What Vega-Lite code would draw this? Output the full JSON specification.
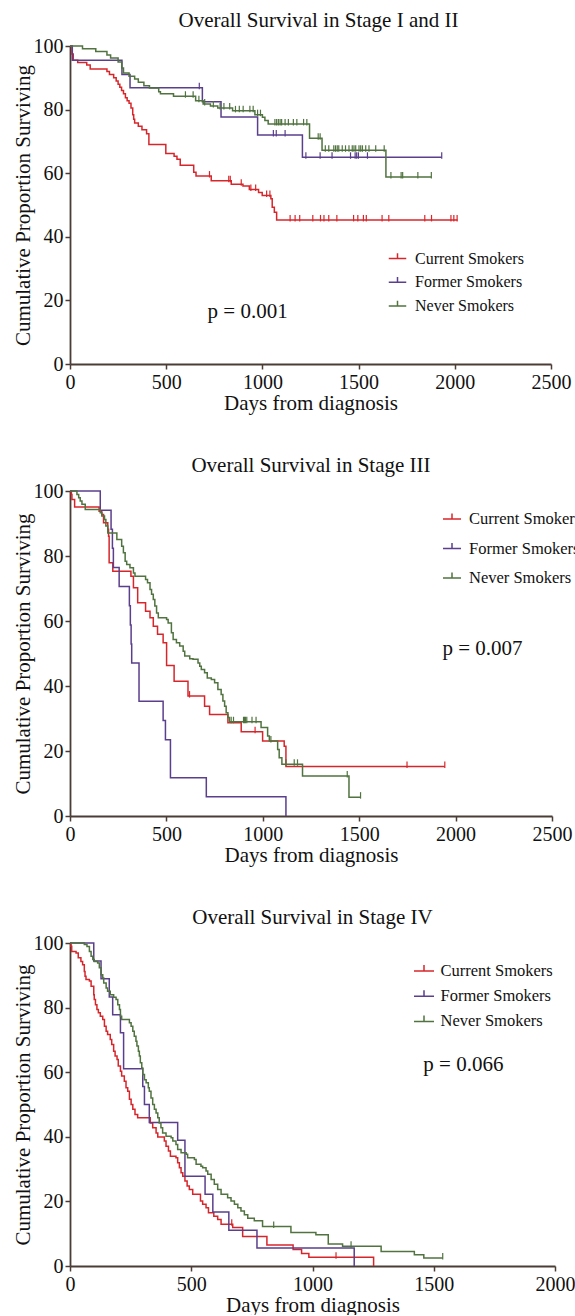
{
"$schema":"https://vega.github.io/schema/vega-lite/v6.json",
"background":"white",
"padding":{"left":12,"top":10,"right":0,"bottom":0},
"spacing":42,
"resolve":{"scale":{"color":"independent"}},
"config":{
 "view":{"stroke":null},
 "font":"Liberation Serif",
 "axis":{"labelFont":"Liberation Serif","labelFontSize":20,"labelColor":"#111111","titleFont":"Liberation Serif","titleFontSize":21,"titleFontWeight":"normal","titleColor":"#111111","grid":false,"domainColor":"#4a3d36","domainWidth":1.8,"tickColor":"#4a3d36","tickWidth":1.5,"tickSize":5,"labelPadding":2,"labelFlush":false,"labelOverlap":false,"labelBound":false,"format":"d"},
 "axisX":{"titlePadding":0,"labelPadding":3},
 "axisY":{"titlePadding":0},
 "title":{"font":"Liberation Serif","fontSize":21,"fontWeight":"normal","color":"#111111","frame":"group","offset":5,"anchor":"middle"}
},
"datasets":{
"curves":[
{"panel":"A","group":"Current Smokers","day":0,"surv":100},{"panel":"A","group":"Current Smokers","day":10,"surv":97.5},{"panel":"A","group":"Current Smokers","day":17,"surv":95.5},{"panel":"A","group":"Current Smokers","day":40,"surv":94.8},{"panel":"A","group":"Current Smokers","day":87,"surv":94.0},{"panel":"A","group":"Current Smokers","day":105,"surv":92.8},{"panel":"A","group":"Current Smokers","day":192,"surv":92.0},{"panel":"A","group":"Current Smokers","day":205,"surv":91.0},{"panel":"A","group":"Current Smokers","day":227,"surv":90.0},{"panel":"A","group":"Current Smokers","day":240,"surv":89.0},{"panel":"A","group":"Current Smokers","day":250,"surv":88.0},{"panel":"A","group":"Current Smokers","day":259,"surv":87.0},{"panel":"A","group":"Current Smokers","day":268,"surv":86.0},{"panel":"A","group":"Current Smokers","day":278,"surv":85.0},{"panel":"A","group":"Current Smokers","day":288,"surv":83.7},{"panel":"A","group":"Current Smokers","day":297,"surv":82.8},{"panel":"A","group":"Current Smokers","day":307,"surv":82.0},{"panel":"A","group":"Current Smokers","day":317,"surv":80.5},{"panel":"A","group":"Current Smokers","day":326,"surv":78.4},{"panel":"A","group":"Current Smokers","day":331,"surv":77.0},{"panel":"A","group":"Current Smokers","day":336,"surv":75.8},{"panel":"A","group":"Current Smokers","day":355,"surv":74.8},{"panel":"A","group":"Current Smokers","day":374,"surv":73.7},{"panel":"A","group":"Current Smokers","day":398,"surv":72.4},{"panel":"A","group":"Current Smokers","day":410,"surv":69.0},{"panel":"A","group":"Current Smokers","day":498,"surv":66.2},{"panel":"A","group":"Current Smokers","day":541,"surv":65.3},{"panel":"A","group":"Current Smokers","day":556,"surv":64.4},{"panel":"A","group":"Current Smokers","day":573,"surv":62.5},{"panel":"A","group":"Current Smokers","day":643,"surv":60.3},{"panel":"A","group":"Current Smokers","day":655,"surv":59.1},{"panel":"A","group":"Current Smokers","day":734,"surv":57.6},{"panel":"A","group":"Current Smokers","day":838,"surv":56.5},{"panel":"A","group":"Current Smokers","day":899,"surv":56.0},{"panel":"A","group":"Current Smokers","day":932,"surv":54.9},{"panel":"A","group":"Current Smokers","day":980,"surv":53.9},{"panel":"A","group":"Current Smokers","day":999,"surv":53.0},{"panel":"A","group":"Current Smokers","day":1044,"surv":52.0},{"panel":"A","group":"Current Smokers","day":1051,"surv":49.3},{"panel":"A","group":"Current Smokers","day":1062,"surv":47.7},{"panel":"A","group":"Current Smokers","day":1074,"surv":45.3},{"panel":"A","group":"Current Smokers","day":2014,"surv":45.3},
{"panel":"A","group":"Former Smokers","day":0,"surv":100},{"panel":"A","group":"Former Smokers","day":12,"surv":95.5},{"panel":"A","group":"Former Smokers","day":270,"surv":91.0},{"panel":"A","group":"Former Smokers","day":312,"surv":86.9},{"panel":"A","group":"Former Smokers","day":688,"surv":82.5},{"panel":"A","group":"Former Smokers","day":785,"surv":77.7},{"panel":"A","group":"Former Smokers","day":975,"surv":72.0},{"panel":"A","group":"Former Smokers","day":1208,"surv":65.0},{"panel":"A","group":"Former Smokers","day":1932,"surv":65.0},
{"panel":"A","group":"Never Smokers","day":0,"surv":100},{"panel":"A","group":"Never Smokers","day":65,"surv":99.1},{"panel":"A","group":"Never Smokers","day":134,"surv":98.3},{"panel":"A","group":"Never Smokers","day":192,"surv":97.2},{"panel":"A","group":"Never Smokers","day":211,"surv":96.2},{"panel":"A","group":"Never Smokers","day":250,"surv":95.0},{"panel":"A","group":"Never Smokers","day":269,"surv":93.1},{"panel":"A","group":"Never Smokers","day":278,"surv":91.5},{"panel":"A","group":"Never Smokers","day":307,"surv":90.5},{"panel":"A","group":"Never Smokers","day":336,"surv":89.6},{"panel":"A","group":"Never Smokers","day":355,"surv":88.6},{"panel":"A","group":"Never Smokers","day":384,"surv":87.5},{"panel":"A","group":"Never Smokers","day":413,"surv":86.8},{"panel":"A","group":"Never Smokers","day":461,"surv":85.6},{"panel":"A","group":"Never Smokers","day":470,"surv":85.0},{"panel":"A","group":"Never Smokers","day":538,"surv":84.2},{"panel":"A","group":"Never Smokers","day":653,"surv":82.8},{"panel":"A","group":"Never Smokers","day":692,"surv":81.8},{"panel":"A","group":"Never Smokers","day":730,"surv":81.1},{"panel":"A","group":"Never Smokers","day":768,"surv":80.5},{"panel":"A","group":"Never Smokers","day":845,"surv":79.6},{"panel":"A","group":"Never Smokers","day":961,"surv":78.4},{"panel":"A","group":"Never Smokers","day":1000,"surv":77.6},{"panel":"A","group":"Never Smokers","day":1013,"surv":76.6},{"panel":"A","group":"Never Smokers","day":1030,"surv":75.5},{"panel":"A","group":"Never Smokers","day":1245,"surv":71.0},{"panel":"A","group":"Never Smokers","day":1310,"surv":67.2},{"panel":"A","group":"Never Smokers","day":1642,"surv":58.8},{"panel":"A","group":"Never Smokers","day":1878,"surv":58.8},
{"panel":"B","group":"Current Smokers","day":0,"surv":100},{"panel":"B","group":"Current Smokers","day":7,"surv":98.9},{"panel":"B","group":"Current Smokers","day":10,"surv":97.4},{"panel":"B","group":"Current Smokers","day":24,"surv":95.1},{"panel":"B","group":"Current Smokers","day":151,"surv":93.8},{"panel":"B","group":"Current Smokers","day":165,"surv":92.8},{"panel":"B","group":"Current Smokers","day":174,"surv":90.2},{"panel":"B","group":"Current Smokers","day":196,"surv":88.2},{"panel":"B","group":"Current Smokers","day":200,"surv":86.1},{"panel":"B","group":"Current Smokers","day":203,"surv":77.9},{"panel":"B","group":"Current Smokers","day":222,"surv":75.3},{"panel":"B","group":"Current Smokers","day":316,"surv":73.8},{"panel":"B","group":"Current Smokers","day":329,"surv":70.2},{"panel":"B","group":"Current Smokers","day":351,"surv":65.6},{"panel":"B","group":"Current Smokers","day":392,"surv":63.0},{"panel":"B","group":"Current Smokers","day":415,"surv":61.0},{"panel":"B","group":"Current Smokers","day":432,"surv":58.4},{"panel":"B","group":"Current Smokers","day":454,"surv":55.9},{"panel":"B","group":"Current Smokers","day":483,"surv":53.3},{"panel":"B","group":"Current Smokers","day":501,"surv":46.3},{"panel":"B","group":"Current Smokers","day":540,"surv":41.5},{"panel":"B","group":"Current Smokers","day":612,"surv":36.9},{"panel":"B","group":"Current Smokers","day":698,"surv":33.8},{"panel":"B","group":"Current Smokers","day":724,"surv":31.2},{"panel":"B","group":"Current Smokers","day":819,"surv":28.7},{"panel":"B","group":"Current Smokers","day":888,"surv":25.9},{"panel":"B","group":"Current Smokers","day":999,"surv":23.1},{"panel":"B","group":"Current Smokers","day":1111,"surv":21.5},{"panel":"B","group":"Current Smokers","day":1120,"surv":15.2},{"panel":"B","group":"Current Smokers","day":1944,"surv":15.2},
{"panel":"B","group":"Former Smokers","day":0,"surv":100},{"panel":"B","group":"Former Smokers","day":157,"surv":94.1},{"panel":"B","group":"Former Smokers","day":213,"surv":88.2},{"panel":"B","group":"Former Smokers","day":220,"surv":82.4},{"panel":"B","group":"Former Smokers","day":225,"surv":76.5},{"panel":"B","group":"Former Smokers","day":255,"surv":70.6},{"panel":"B","group":"Former Smokers","day":308,"surv":64.7},{"panel":"B","group":"Former Smokers","day":313,"surv":58.8},{"panel":"B","group":"Former Smokers","day":317,"surv":52.9},{"panel":"B","group":"Former Smokers","day":320,"surv":47.1},{"panel":"B","group":"Former Smokers","day":358,"surv":35.3},{"panel":"B","group":"Former Smokers","day":483,"surv":29.4},{"panel":"B","group":"Former Smokers","day":495,"surv":23.5},{"panel":"B","group":"Former Smokers","day":521,"surv":11.8},{"panel":"B","group":"Former Smokers","day":707,"surv":5.9},{"panel":"B","group":"Former Smokers","day":1120,"surv":0},
{"panel":"B","group":"Never Smokers","day":0,"surv":100},{"panel":"B","group":"Never Smokers","day":36,"surv":98.9},{"panel":"B","group":"Never Smokers","day":45,"surv":97.9},{"panel":"B","group":"Never Smokers","day":53,"surv":96.9},{"panel":"B","group":"Never Smokers","day":62,"surv":95.9},{"panel":"B","group":"Never Smokers","day":79,"surv":94.3},{"panel":"B","group":"Never Smokers","day":157,"surv":93.3},{"panel":"B","group":"Never Smokers","day":165,"surv":92.3},{"panel":"B","group":"Never Smokers","day":179,"surv":91.2},{"panel":"B","group":"Never Smokers","day":186,"surv":89.2},{"panel":"B","group":"Never Smokers","day":196,"surv":87.1},{"panel":"B","group":"Never Smokers","day":243,"surv":85.1},{"panel":"B","group":"Never Smokers","day":268,"surv":83.0},{"panel":"B","group":"Never Smokers","day":277,"surv":81.0},{"panel":"B","group":"Never Smokers","day":286,"surv":78.4},{"panel":"B","group":"Never Smokers","day":294,"surv":77.4},{"panel":"B","group":"Never Smokers","day":311,"surv":76.4},{"panel":"B","group":"Never Smokers","day":329,"surv":74.8},{"panel":"B","group":"Never Smokers","day":337,"surv":73.8},{"panel":"B","group":"Never Smokers","day":392,"surv":72.8},{"panel":"B","group":"Never Smokers","day":402,"surv":71.8},{"panel":"B","group":"Never Smokers","day":415,"surv":69.7},{"panel":"B","group":"Never Smokers","day":423,"surv":68.2},{"panel":"B","group":"Never Smokers","day":432,"surv":66.6},{"panel":"B","group":"Never Smokers","day":440,"surv":64.6},{"panel":"B","group":"Never Smokers","day":449,"surv":62.5},{"panel":"B","group":"Never Smokers","day":458,"surv":61.0},{"panel":"B","group":"Never Smokers","day":501,"surv":60.5},{"panel":"B","group":"Never Smokers","day":509,"surv":59.4},{"panel":"B","group":"Never Smokers","day":526,"surv":56.4},{"panel":"B","group":"Never Smokers","day":535,"surv":54.3},{"panel":"B","group":"Never Smokers","day":552,"surv":53.3},{"panel":"B","group":"Never Smokers","day":569,"surv":52.3},{"panel":"B","group":"Never Smokers","day":587,"surv":50.7},{"panel":"B","group":"Never Smokers","day":595,"surv":49.2},{"panel":"B","group":"Never Smokers","day":621,"surv":48.4},{"panel":"B","group":"Never Smokers","day":638,"surv":48.2},{"panel":"B","group":"Never Smokers","day":664,"surv":47.1},{"panel":"B","group":"Never Smokers","day":673,"surv":46.1},{"panel":"B","group":"Never Smokers","day":681,"surv":45.1},{"panel":"B","group":"Never Smokers","day":698,"surv":44.1},{"panel":"B","group":"Never Smokers","day":712,"surv":42.5},{"panel":"B","group":"Never Smokers","day":733,"surv":42.0},{"panel":"B","group":"Never Smokers","day":750,"surv":41.0},{"panel":"B","group":"Never Smokers","day":767,"surv":38.9},{"panel":"B","group":"Never Smokers","day":784,"surv":37.4},{"panel":"B","group":"Never Smokers","day":793,"surv":35.4},{"panel":"B","group":"Never Smokers","day":802,"surv":33.8},{"panel":"B","group":"Never Smokers","day":810,"surv":31.8},{"panel":"B","group":"Never Smokers","day":819,"surv":30.3},{"panel":"B","group":"Never Smokers","day":827,"surv":29.0},{"panel":"B","group":"Never Smokers","day":991,"surv":27.2},{"panel":"B","group":"Never Smokers","day":1025,"surv":24.6},{"panel":"B","group":"Never Smokers","day":1034,"surv":23.1},{"panel":"B","group":"Never Smokers","day":1077,"surv":20.5},{"panel":"B","group":"Never Smokers","day":1085,"surv":17.9},{"panel":"B","group":"Never Smokers","day":1099,"surv":15.9},{"panel":"B","group":"Never Smokers","day":1206,"surv":12.3},{"panel":"B","group":"Never Smokers","day":1447,"surv":5.8},{"panel":"B","group":"Never Smokers","day":1507,"surv":5.8},
{"panel":"C","group":"Current Smokers","day":0,"surv":100},{"panel":"C","group":"Current Smokers","day":4,"surv":99.0},{"panel":"C","group":"Current Smokers","day":7,"surv":97.4},{"panel":"C","group":"Current Smokers","day":25,"surv":96.9},{"panel":"C","group":"Current Smokers","day":34,"surv":95.4},{"panel":"C","group":"Current Smokers","day":45,"surv":94.3},{"panel":"C","group":"Current Smokers","day":52,"surv":93.3},{"panel":"C","group":"Current Smokers","day":59,"surv":91.2},{"panel":"C","group":"Current Smokers","day":62,"surv":89.7},{"panel":"C","group":"Current Smokers","day":66,"surv":88.7},{"panel":"C","group":"Current Smokers","day":80,"surv":88.2},{"panel":"C","group":"Current Smokers","day":87,"surv":86.6},{"panel":"C","group":"Current Smokers","day":98,"surv":84.0},{"panel":"C","group":"Current Smokers","day":100,"surv":82.5},{"panel":"C","group":"Current Smokers","day":105,"surv":80.9},{"panel":"C","group":"Current Smokers","day":111,"surv":79.4},{"panel":"C","group":"Current Smokers","day":117,"surv":78.4},{"panel":"C","group":"Current Smokers","day":125,"surv":77.3},{"panel":"C","group":"Current Smokers","day":135,"surv":76.3},{"panel":"C","group":"Current Smokers","day":142,"surv":74.2},{"panel":"C","group":"Current Smokers","day":149,"surv":72.7},{"panel":"C","group":"Current Smokers","day":155,"surv":71.7},{"panel":"C","group":"Current Smokers","day":166,"surv":70.1},{"panel":"C","group":"Current Smokers","day":172,"surv":68.6},{"panel":"C","group":"Current Smokers","day":180,"surv":66.5},{"panel":"C","group":"Current Smokers","day":186,"surv":65.0},{"panel":"C","group":"Current Smokers","day":194,"surv":63.9},{"panel":"C","group":"Current Smokers","day":199,"surv":61.9},{"panel":"C","group":"Current Smokers","day":208,"surv":60.3},{"panel":"C","group":"Current Smokers","day":213,"surv":58.8},{"panel":"C","group":"Current Smokers","day":224,"surv":57.2},{"panel":"C","group":"Current Smokers","day":231,"surv":55.2},{"panel":"C","group":"Current Smokers","day":238,"surv":54.1},{"panel":"C","group":"Current Smokers","day":245,"surv":51.6},{"panel":"C","group":"Current Smokers","day":252,"surv":50.0},{"panel":"C","group":"Current Smokers","day":259,"surv":48.5},{"panel":"C","group":"Current Smokers","day":268,"surv":46.9},{"panel":"C","group":"Current Smokers","day":279,"surv":45.9},{"panel":"C","group":"Current Smokers","day":331,"surv":44.3},{"panel":"C","group":"Current Smokers","day":341,"surv":42.8},{"panel":"C","group":"Current Smokers","day":355,"surv":41.2},{"panel":"C","group":"Current Smokers","day":362,"surv":39.9},{"panel":"C","group":"Current Smokers","day":389,"surv":38.7},{"panel":"C","group":"Current Smokers","day":396,"surv":37.1},{"panel":"C","group":"Current Smokers","day":406,"surv":35.6},{"panel":"C","group":"Current Smokers","day":414,"surv":34.0},{"panel":"C","group":"Current Smokers","day":437,"surv":33.5},{"panel":"C","group":"Current Smokers","day":444,"surv":32.0},{"panel":"C","group":"Current Smokers","day":451,"surv":30.4},{"panel":"C","group":"Current Smokers","day":458,"surv":28.9},{"panel":"C","group":"Current Smokers","day":465,"surv":27.8},{"panel":"C","group":"Current Smokers","day":474,"surv":26.3},{"panel":"C","group":"Current Smokers","day":483,"surv":24.8},{"panel":"C","group":"Current Smokers","day":492,"surv":23.7},{"panel":"C","group":"Current Smokers","day":506,"surv":22.2},{"panel":"C","group":"Current Smokers","day":538,"surv":20.1},{"panel":"C","group":"Current Smokers","day":547,"surv":19.1},{"panel":"C","group":"Current Smokers","day":561,"surv":18.0},{"panel":"C","group":"Current Smokers","day":571,"surv":16.5},{"panel":"C","group":"Current Smokers","day":593,"surv":15.4},{"panel":"C","group":"Current Smokers","day":609,"surv":14.4},{"panel":"C","group":"Current Smokers","day":623,"surv":12.9},{"panel":"C","group":"Current Smokers","day":671,"surv":11.9},{"panel":"C","group":"Current Smokers","day":712,"surv":9.1},{"panel":"C","group":"Current Smokers","day":812,"surv":6.5},{"panel":"C","group":"Current Smokers","day":920,"surv":5.1},{"panel":"C","group":"Current Smokers","day":955,"surv":3.9},{"panel":"C","group":"Current Smokers","day":985,"surv":2.7},{"panel":"C","group":"Current Smokers","day":1252,"surv":0},
{"panel":"C","group":"Former Smokers","day":0,"surv":100},{"panel":"C","group":"Former Smokers","day":98,"surv":94.4},{"panel":"C","group":"Former Smokers","day":128,"surv":88.9},{"panel":"C","group":"Former Smokers","day":162,"surv":83.3},{"panel":"C","group":"Former Smokers","day":176,"surv":77.8},{"panel":"C","group":"Former Smokers","day":208,"surv":72.2},{"panel":"C","group":"Former Smokers","day":221,"surv":61.1},{"panel":"C","group":"Former Smokers","day":300,"surv":55.6},{"panel":"C","group":"Former Smokers","day":307,"surv":50.0},{"panel":"C","group":"Former Smokers","day":327,"surv":44.4},{"panel":"C","group":"Former Smokers","day":444,"surv":38.9},{"panel":"C","group":"Former Smokers","day":474,"surv":27.8},{"panel":"C","group":"Former Smokers","day":557,"surv":22.2},{"panel":"C","group":"Former Smokers","day":589,"surv":16.7},{"panel":"C","group":"Former Smokers","day":655,"surv":11.1},{"panel":"C","group":"Former Smokers","day":771,"surv":5.6},{"panel":"C","group":"Former Smokers","day":1172,"surv":0},
{"panel":"C","group":"Never Smokers","day":0,"surv":100},{"panel":"C","group":"Never Smokers","day":59,"surv":99.5},{"panel":"C","group":"Never Smokers","day":70,"surv":98.9},{"panel":"C","group":"Never Smokers","day":80,"surv":97.4},{"panel":"C","group":"Never Smokers","day":87,"surv":95.9},{"panel":"C","group":"Never Smokers","day":94,"surv":94.9},{"panel":"C","group":"Never Smokers","day":100,"surv":94.3},{"panel":"C","group":"Never Smokers","day":114,"surv":93.8},{"panel":"C","group":"Never Smokers","day":121,"surv":92.3},{"panel":"C","group":"Never Smokers","day":128,"surv":90.2},{"panel":"C","group":"Never Smokers","day":135,"surv":89.2},{"panel":"C","group":"Never Smokers","day":139,"surv":87.6},{"panel":"C","group":"Never Smokers","day":149,"surv":86.1},{"panel":"C","group":"Never Smokers","day":155,"surv":85.1},{"panel":"C","group":"Never Smokers","day":166,"surv":84.0},{"panel":"C","group":"Never Smokers","day":180,"surv":83.2},{"panel":"C","group":"Never Smokers","day":190,"surv":82.5},{"panel":"C","group":"Never Smokers","day":197,"surv":80.9},{"panel":"C","group":"Never Smokers","day":204,"surv":79.4},{"panel":"C","group":"Never Smokers","day":208,"surv":77.3},{"panel":"C","group":"Never Smokers","day":213,"surv":76.3},{"panel":"C","group":"Never Smokers","day":245,"surv":75.3},{"panel":"C","group":"Never Smokers","day":252,"surv":74.2},{"panel":"C","group":"Never Smokers","day":259,"surv":72.7},{"panel":"C","group":"Never Smokers","day":265,"surv":71.1},{"panel":"C","group":"Never Smokers","day":272,"surv":69.6},{"panel":"C","group":"Never Smokers","day":276,"surv":68.1},{"panel":"C","group":"Never Smokers","day":282,"surv":66.5},{"panel":"C","group":"Never Smokers","day":286,"surv":65.0},{"panel":"C","group":"Never Smokers","day":290,"surv":62.9},{"panel":"C","group":"Never Smokers","day":296,"surv":61.3},{"panel":"C","group":"Never Smokers","day":300,"surv":59.3},{"panel":"C","group":"Never Smokers","day":307,"surv":57.7},{"panel":"C","group":"Never Smokers","day":314,"surv":56.7},{"panel":"C","group":"Never Smokers","day":323,"surv":55.2},{"panel":"C","group":"Never Smokers","day":327,"surv":54.1},{"panel":"C","group":"Never Smokers","day":334,"surv":52.0},{"panel":"C","group":"Never Smokers","day":341,"surv":50.0},{"panel":"C","group":"Never Smokers","day":348,"surv":48.5},{"panel":"C","group":"Never Smokers","day":355,"surv":47.4},{"panel":"C","group":"Never Smokers","day":362,"surv":45.9},{"panel":"C","group":"Never Smokers","day":368,"surv":44.3},{"panel":"C","group":"Never Smokers","day":375,"surv":42.8},{"panel":"C","group":"Never Smokers","day":382,"surv":41.2},{"panel":"C","group":"Never Smokers","day":396,"surv":40.2},{"panel":"C","group":"Never Smokers","day":417,"surv":39.7},{"panel":"C","group":"Never Smokers","day":424,"surv":38.7},{"panel":"C","group":"Never Smokers","day":437,"surv":37.6},{"panel":"C","group":"Never Smokers","day":444,"surv":36.1},{"panel":"C","group":"Never Smokers","day":458,"surv":35.1},{"panel":"C","group":"Never Smokers","day":479,"surv":34.6},{"panel":"C","group":"Never Smokers","day":485,"surv":33.5},{"panel":"C","group":"Never Smokers","day":513,"surv":33.0},{"panel":"C","group":"Never Smokers","day":520,"surv":31.5},{"panel":"C","group":"Never Smokers","day":540,"surv":30.9},{"panel":"C","group":"Never Smokers","day":547,"surv":30.4},{"panel":"C","group":"Never Smokers","day":561,"surv":29.4},{"panel":"C","group":"Never Smokers","day":568,"surv":28.4},{"panel":"C","group":"Never Smokers","day":582,"surv":26.8},{"panel":"C","group":"Never Smokers","day":595,"surv":25.3},{"panel":"C","group":"Never Smokers","day":609,"surv":23.7},{"panel":"C","group":"Never Smokers","day":623,"surv":22.2},{"panel":"C","group":"Never Smokers","day":650,"surv":21.1},{"panel":"C","group":"Never Smokers","day":664,"surv":20.1},{"panel":"C","group":"Never Smokers","day":678,"surv":19.1},{"panel":"C","group":"Never Smokers","day":692,"surv":18.0},{"panel":"C","group":"Never Smokers","day":705,"surv":17.0},{"panel":"C","group":"Never Smokers","day":719,"surv":15.9},{"panel":"C","group":"Never Smokers","day":733,"surv":14.8},{"panel":"C","group":"Never Smokers","day":760,"surv":14.0},{"panel":"C","group":"Never Smokers","day":794,"surv":12.2},{"panel":"C","group":"Never Smokers","day":911,"surv":10.4},{"panel":"C","group":"Never Smokers","day":1014,"surv":9.7},{"panel":"C","group":"Never Smokers","day":1065,"surv":6.8},{"panel":"C","group":"Never Smokers","day":1124,"surv":6.1},{"panel":"C","group":"Never Smokers","day":1283,"surv":4.5},{"panel":"C","group":"Never Smokers","day":1420,"surv":3.5},{"panel":"C","group":"Never Smokers","day":1459,"surv":2.5},{"panel":"C","group":"Never Smokers","day":1537,"surv":2.5}
],
"censors":[
{"panel":"A","group":"Current Smokers","day":725,"surv":59.1},{"panel":"A","group":"Current Smokers","day":825,"surv":57.6},{"panel":"A","group":"Current Smokers","day":833,"surv":57.6},{"panel":"A","group":"Current Smokers","day":890,"surv":56.5},{"panel":"A","group":"Current Smokers","day":940,"surv":54.9},{"panel":"A","group":"Current Smokers","day":965,"surv":54.9},{"panel":"A","group":"Current Smokers","day":1022,"surv":53.0},{"panel":"A","group":"Current Smokers","day":1039,"surv":53.0},{"panel":"A","group":"Current Smokers","day":1144,"surv":45.3},{"panel":"A","group":"Current Smokers","day":1170,"surv":45.3},{"panel":"A","group":"Current Smokers","day":1194,"surv":45.3},{"panel":"A","group":"Current Smokers","day":1262,"surv":45.3},{"panel":"A","group":"Current Smokers","day":1302,"surv":45.3},{"panel":"A","group":"Current Smokers","day":1320,"surv":45.3},{"panel":"A","group":"Current Smokers","day":1345,"surv":45.3},{"panel":"A","group":"Current Smokers","day":1387,"surv":45.3},{"panel":"A","group":"Current Smokers","day":1474,"surv":45.3},{"panel":"A","group":"Current Smokers","day":1496,"surv":45.3},{"panel":"A","group":"Current Smokers","day":1525,"surv":45.3},{"panel":"A","group":"Current Smokers","day":1540,"surv":45.3},{"panel":"A","group":"Current Smokers","day":1622,"surv":45.3},{"panel":"A","group":"Current Smokers","day":1657,"surv":45.3},{"panel":"A","group":"Current Smokers","day":1844,"surv":45.3},{"panel":"A","group":"Current Smokers","day":1879,"surv":45.3},{"panel":"A","group":"Current Smokers","day":1980,"surv":45.3},{"panel":"A","group":"Current Smokers","day":1995,"surv":45.3},{"panel":"A","group":"Current Smokers","day":2012,"surv":45.3},
{"panel":"A","group":"Former Smokers","day":672,"surv":86.9},{"panel":"A","group":"Former Smokers","day":1057,"surv":72.0},{"panel":"A","group":"Former Smokers","day":1072,"surv":72.0},{"panel":"A","group":"Former Smokers","day":1118,"surv":72.0},{"panel":"A","group":"Former Smokers","day":1226,"surv":65.0},{"panel":"A","group":"Former Smokers","day":1300,"surv":65.0},{"panel":"A","group":"Former Smokers","day":1362,"surv":65.0},{"panel":"A","group":"Former Smokers","day":1458,"surv":65.0},{"panel":"A","group":"Former Smokers","day":1482,"surv":65.0},{"panel":"A","group":"Former Smokers","day":1490,"surv":65.0},{"panel":"A","group":"Former Smokers","day":1499,"surv":65.0},{"panel":"A","group":"Former Smokers","day":1546,"surv":65.0},{"panel":"A","group":"Former Smokers","day":1932,"surv":65.0},
{"panel":"A","group":"Never Smokers","day":600,"surv":84.2},{"panel":"A","group":"Never Smokers","day":640,"surv":84.2},{"panel":"A","group":"Never Smokers","day":670,"surv":82.8},{"panel":"A","group":"Never Smokers","day":700,"surv":81.8},{"panel":"A","group":"Never Smokers","day":745,"surv":81.1},{"panel":"A","group":"Never Smokers","day":780,"surv":80.5},{"panel":"A","group":"Never Smokers","day":800,"surv":80.5},{"panel":"A","group":"Never Smokers","day":830,"surv":80.5},{"panel":"A","group":"Never Smokers","day":860,"surv":79.6},{"panel":"A","group":"Never Smokers","day":880,"surv":79.6},{"panel":"A","group":"Never Smokers","day":900,"surv":79.6},{"panel":"A","group":"Never Smokers","day":935,"surv":79.6},{"panel":"A","group":"Never Smokers","day":952,"surv":79.6},{"panel":"A","group":"Never Smokers","day":975,"surv":78.4},{"panel":"A","group":"Never Smokers","day":990,"surv":78.4},{"panel":"A","group":"Never Smokers","day":1065,"surv":75.5},{"panel":"A","group":"Never Smokers","day":1074,"surv":75.5},{"panel":"A","group":"Never Smokers","day":1083,"surv":75.5},{"panel":"A","group":"Never Smokers","day":1092,"surv":75.5},{"panel":"A","group":"Never Smokers","day":1100,"surv":75.5},{"panel":"A","group":"Never Smokers","day":1118,"surv":75.5},{"panel":"A","group":"Never Smokers","day":1135,"surv":75.5},{"panel":"A","group":"Never Smokers","day":1161,"surv":75.5},{"panel":"A","group":"Never Smokers","day":1179,"surv":75.5},{"panel":"A","group":"Never Smokers","day":1214,"surv":75.5},{"panel":"A","group":"Never Smokers","day":1231,"surv":75.5},{"panel":"A","group":"Never Smokers","day":1290,"surv":71.0},{"panel":"A","group":"Never Smokers","day":1300,"surv":71.0},{"panel":"A","group":"Never Smokers","day":1327,"surv":67.2},{"panel":"A","group":"Never Smokers","day":1345,"surv":67.2},{"panel":"A","group":"Never Smokers","day":1371,"surv":67.2},{"panel":"A","group":"Never Smokers","day":1380,"surv":67.2},{"panel":"A","group":"Never Smokers","day":1389,"surv":67.2},{"panel":"A","group":"Never Smokers","day":1397,"surv":67.2},{"panel":"A","group":"Never Smokers","day":1415,"surv":67.2},{"panel":"A","group":"Never Smokers","day":1432,"surv":67.2},{"panel":"A","group":"Never Smokers","day":1450,"surv":67.2},{"panel":"A","group":"Never Smokers","day":1467,"surv":67.2},{"panel":"A","group":"Never Smokers","day":1476,"surv":67.2},{"panel":"A","group":"Never Smokers","day":1485,"surv":67.2},{"panel":"A","group":"Never Smokers","day":1502,"surv":67.2},{"panel":"A","group":"Never Smokers","day":1511,"surv":67.2},{"panel":"A","group":"Never Smokers","day":1520,"surv":67.2},{"panel":"A","group":"Never Smokers","day":1537,"surv":67.2},{"panel":"A","group":"Never Smokers","day":1554,"surv":67.2},{"panel":"A","group":"Never Smokers","day":1589,"surv":67.2},{"panel":"A","group":"Never Smokers","day":1633,"surv":67.2},{"panel":"A","group":"Never Smokers","day":1668,"surv":58.8},{"panel":"A","group":"Never Smokers","day":1721,"surv":58.8},{"panel":"A","group":"Never Smokers","day":1729,"surv":58.8},{"panel":"A","group":"Never Smokers","day":1808,"surv":58.8},{"panel":"A","group":"Never Smokers","day":1878,"surv":58.8},
{"panel":"B","group":"Current Smokers","day":620,"surv":36.9},{"panel":"B","group":"Current Smokers","day":960,"surv":25.9},{"panel":"B","group":"Current Smokers","day":1748,"surv":15.2},{"panel":"B","group":"Current Smokers","day":1944,"surv":15.2},
{"panel":"B","group":"Never Smokers","day":836,"surv":29.0},{"panel":"B","group":"Never Smokers","day":848,"surv":29.0},{"panel":"B","group":"Never Smokers","day":900,"surv":29.0},{"panel":"B","group":"Never Smokers","day":905,"surv":29.0},{"panel":"B","group":"Never Smokers","day":910,"surv":29.0},{"panel":"B","group":"Never Smokers","day":917,"surv":29.0},{"panel":"B","group":"Never Smokers","day":944,"surv":29.0},{"panel":"B","group":"Never Smokers","day":965,"surv":29.0},{"panel":"B","group":"Never Smokers","day":1042,"surv":23.1},{"panel":"B","group":"Never Smokers","day":1120,"surv":15.9},{"panel":"B","group":"Never Smokers","day":1163,"surv":15.9},{"panel":"B","group":"Never Smokers","day":1180,"surv":15.9},{"panel":"B","group":"Never Smokers","day":1438,"surv":12.3},{"panel":"B","group":"Never Smokers","day":1507,"surv":5.8},
{"panel":"C","group":"Current Smokers","day":667,"surv":12.9},{"panel":"C","group":"Current Smokers","day":1097,"surv":2.7},
{"panel":"C","group":"Never Smokers","day":840,"surv":12.2},{"panel":"C","group":"Never Smokers","day":1159,"surv":6.1},{"panel":"C","group":"Never Smokers","day":1537,"surv":2.5}
]
},
"vconcat":[
{
 "title":{"text":"Overall Survival in Stage I and II","dx":8},
 "width":481,"height":318,
 "layer":[
  {"data":{"name":"curves"},"transform":[{"filter":"datum.panel == 'A'"}],
   "mark":{"type":"line","interpolate":"step-after","strokeWidth":1.5},
   "encoding":{
    "x":{"field":"day","type":"quantitative","scale":{"domain":[0,2500],"nice":false},"axis":{"values":[0,500,1000,1500,2000,2500],"format":"d","title":"Days from diagnosis"}},
    "y":{"field":"surv","type":"quantitative","scale":{"domain":[0,100],"nice":false},"axis":{"values":[0,20,40,60,80,100],"format":"d","title":"Cumulative Proportion Surviving"}},
    "color":{"field":"group","type":"nominal","scale":{"domain":["Current Smokers","Former Smokers","Never Smokers"],"range":["#d7262b","#5a3f8c","#50733f"]},
     "legend":{"title":null,"orient":"none","legendX":318,"legendY":203,"padding":0,"symbolType":"M-1,0H1M0,0V-0.6","symbolSize":306,"symbolStrokeWidth":1.5,"labelFont":"Liberation Serif","labelFontSize":16,"labelColor":"#111111","labelOffset":8,"rowPadding":5.7}}
   }},
  {"data":{"name":"censors"},"transform":[{"filter":"datum.panel == 'A'"}],
   "mark":{"type":"point","shape":"M0,0.3V-1","size":100,"filled":false,"strokeWidth":1.2,"opacity":1},
   "encoding":{
    "x":{"field":"day","type":"quantitative"},
    "y":{"field":"surv","type":"quantitative"},
    "color":{"field":"group","type":"nominal"}
   }},
  {"data":{"values":[{"day":715,"surv":16.2,"label":"p = 0.001"}]},
   "mark":{"type":"text","align":"left","baseline":"middle","font":"Liberation Serif","fontSize":21,"color":"#111111"},
   "encoding":{"x":{"field":"day","type":"quantitative"},"y":{"field":"surv","type":"quantitative"},"text":{"field":"label"}}}
 ]
},
{
 "title":{"text":"Overall Survival in Stage III"},
 "width":482,"height":325,
 "layer":[
  {"data":{"name":"curves"},"transform":[{"filter":"datum.panel == 'B'"}],
   "mark":{"type":"line","interpolate":"step-after","strokeWidth":1.5},
   "encoding":{
    "x":{"field":"day","type":"quantitative","scale":{"domain":[0,2500],"nice":false},"axis":{"values":[0,500,1000,1500,2000,2500],"format":"d","title":"Days from diagnosis"}},
    "y":{"field":"surv","type":"quantitative","scale":{"domain":[0,100],"nice":false},"axis":{"values":[0,20,40,60,80,100],"format":"d","title":"Cumulative Proportion Surviving"}},
    "color":{"field":"group","type":"nominal","scale":{"domain":["Current Smokers","Former Smokers","Never Smokers"],"range":["#d7262b","#5a3f8c","#50733f"]},
     "legend":{"title":null,"orient":"none","legendX":372,"legendY":18,"padding":0,"symbolType":"M-1,0H1M0,0V-0.6","symbolSize":324,"symbolStrokeWidth":1.5,"labelFont":"Liberation Serif","labelFontSize":16.5,"labelColor":"#111111","labelOffset":7,"rowPadding":10.5}}
   }},
  {"data":{"name":"censors"},"transform":[{"filter":"datum.panel == 'B'"}],
   "mark":{"type":"point","shape":"M0,0.3V-1","size":100,"filled":false,"strokeWidth":1.2,"opacity":1},
   "encoding":{
    "x":{"field":"day","type":"quantitative"},
    "y":{"field":"surv","type":"quantitative"},
    "color":{"field":"group","type":"nominal"}
   }},
  {"data":{"values":[{"day":1932,"surv":51.4,"label":"p = 0.007"}]},
   "mark":{"type":"text","align":"left","baseline":"middle","font":"Liberation Serif","fontSize":21,"color":"#111111"},
   "encoding":{"x":{"field":"day","type":"quantitative"},"y":{"field":"surv","type":"quantitative"},"text":{"field":"label"}}}
 ]
},
{
 "title":{"text":"Overall Survival in Stage IV"},
 "width":485,"height":323,
 "layer":[
  {"data":{"name":"curves"},"transform":[{"filter":"datum.panel == 'C'"}],
   "mark":{"type":"line","interpolate":"step-after","strokeWidth":1.5},
   "encoding":{
    "x":{"field":"day","type":"quantitative","scale":{"domain":[0,2000],"nice":false},"axis":{"values":[0,500,1000,1500,2000],"format":"d","title":"Days from diagnosis"}},
    "y":{"field":"surv","type":"quantitative","scale":{"domain":[0,100],"nice":false},"axis":{"values":[0,20,40,60,80,100],"format":"d","title":"Cumulative Proportion Surviving"}},
    "color":{"field":"group","type":"nominal","scale":{"domain":["Current Smokers","Former Smokers","Never Smokers"],"range":["#d7262b","#5a3f8c","#50733f"]},
     "legend":{"title":null,"orient":"none","legendX":343,"legendY":17,"padding":0,"symbolType":"M-1,0H1M0,0V-0.6","symbolSize":400,"symbolStrokeWidth":1.5,"labelFont":"Liberation Serif","labelFontSize":16.5,"labelColor":"#111111","labelOffset":5.5,"rowPadding":5.2}}
   }},
  {"data":{"name":"censors"},"transform":[{"filter":"datum.panel == 'C'"}],
   "mark":{"type":"point","shape":"M0,0.3V-1","size":100,"filled":false,"strokeWidth":1.2,"opacity":1},
   "encoding":{
    "x":{"field":"day","type":"quantitative"},
    "y":{"field":"surv","type":"quantitative"},
    "color":{"field":"group","type":"nominal"}
   }},
  {"data":{"values":[{"day":1457,"surv":62.3,"label":"p = 0.066"}]},
   "mark":{"type":"text","align":"left","baseline":"middle","font":"Liberation Serif","fontSize":21,"color":"#111111"},
   "encoding":{"x":{"field":"day","type":"quantitative"},"y":{"field":"surv","type":"quantitative"},"text":{"field":"label"}}}
 ]
}
]
}
